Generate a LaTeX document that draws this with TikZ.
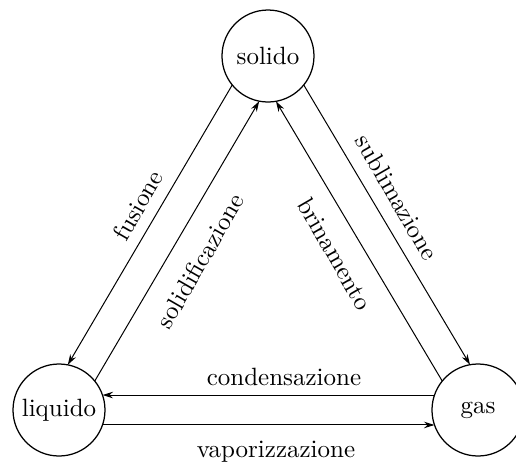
\documentclass[tikz,border=0pt]{standalone}
\usetikzlibrary{arrows.meta}
\begin{document}
\begin{tikzpicture}[x=0.4pt,y=-0.4pt,
  state/.style={draw,circle,minimum size=36.8pt,inner sep=0pt,outer sep=0pt,line width=0.5pt},
  flow/.style={-{Stealth[length=4.2pt,width=2.6pt]},line width=0.4pt},
  lbl/.style={inner sep=0pt,font=\normalsize}]
\useasboundingbox (0,0) rectangle (516,463);
\node[state] (s) at (268,56) {solido};
\node[state] (l) at (59,410) {liquido};
\node[state] (g) at (478,410) {gas};
% solido - liquido
\draw[flow] (s.219) -- (l.79.8);
\draw[flow] (l.39) -- (s.259.8);
% solido - gas
\draw[flow] (s.321.1) -- (g.100.3);
\draw[flow] (g.141.1) -- (s.280.3);
% liquido - gas
\draw[flow] (g.161) -- (l.19);
\draw[flow] (l.-19) -- (g.199);
% labels
\node[lbl,rotate=60] (fus) at (138,205) {fusione};
\node[lbl,rotate=60] (sol) at (200,261) {solidificazione};
\node[lbl,rotate=-60] (sub) at (397,197) {sublimazione};
\node[lbl,rotate=-60] (bri) at (335,254) {brinamento};
\node[lbl,anchor=base] (con) at (284,385) {condensazione};
\node[lbl,anchor=base] (vap) at (276,457) {vaporizzazione};
\end{tikzpicture}
\end{document}
